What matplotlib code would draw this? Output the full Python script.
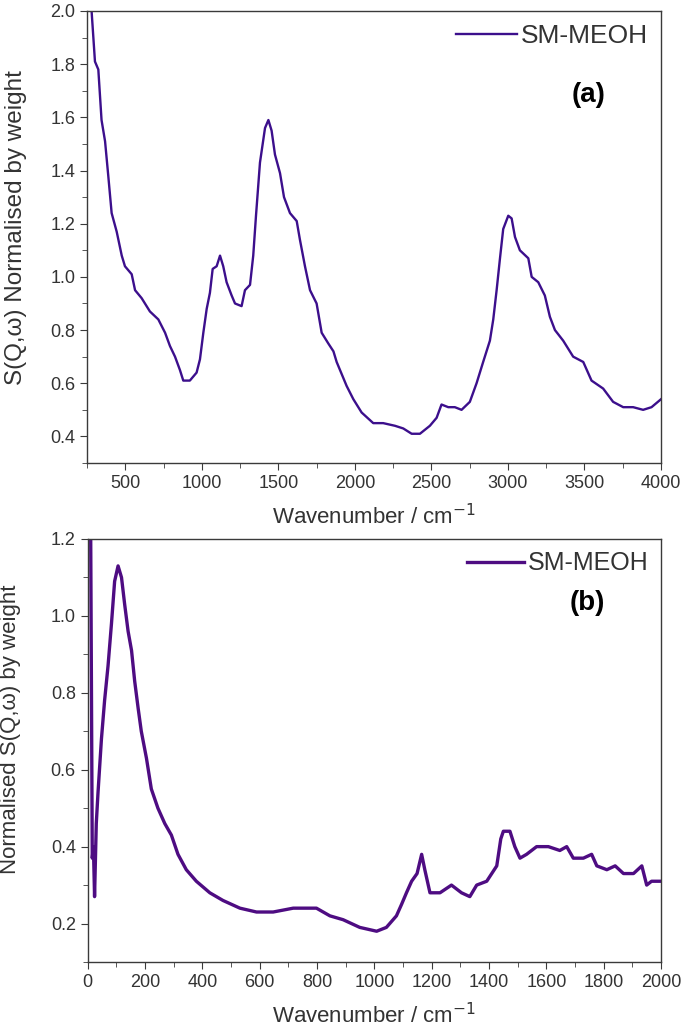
"""Plot S(Q,w) spectra of SM-MEOH

Two stacked panels: (a) the full wavenumber range and (b) the low energy
region. Values were read from the published figure.

"""
import matplotlib.pyplot as plt
from matplotlib.ticker import MultipleLocator

plt.rcParams['font.family'] = ['Liberation Sans', 'DejaVu Sans']

# panel (a): full range
WAVE_A = [280, 302, 324, 345, 368, 389, 411, 444, 477, 498, 542, 564, 607,
          661, 716, 760, 792, 825, 857, 879, 922, 966, 988, 1010, 1032, 1053,
          1071, 1097, 1119, 1140, 1162, 1195, 1217, 1260, 1282, 1315, 1336,
          1354, 1380, 1413, 1435, 1456, 1478, 1511, 1537, 1576, 1620, 1641,
          1674, 1707, 1750, 1783, 1826, 1860, 1881, 1946, 1990, 2044, 2120,
          2185, 2262, 2316, 2371, 2425, 2490, 2534, 2566, 2610, 2653, 2697,
          2751, 2795, 2838, 2882, 2904, 2926, 2948, 2969, 3002, 3024, 3046,
          3078, 3133, 3155, 3198, 3241, 3274, 3307, 3361, 3426, 3492, 3546,
          3622, 3687, 3753, 3818, 3883, 3938, 4000]
SQW_A = [2.00, 1.81, 1.78, 1.59, 1.51, 1.38, 1.24, 1.17, 1.08, 1.04, 1.01,
         0.95, 0.92, 0.87, 0.84, 0.79, 0.74, 0.70, 0.65, 0.61, 0.61, 0.64,
         0.69, 0.79, 0.88, 0.94, 1.03, 1.04, 1.08, 1.04, 0.98, 0.93, 0.90,
         0.89, 0.95, 0.97, 1.08, 1.23, 1.43, 1.56, 1.59, 1.55, 1.46, 1.39,
         1.30, 1.24, 1.21, 1.14, 1.04, 0.95, 0.90, 0.79, 0.75, 0.72, 0.68,
         0.59, 0.54, 0.49, 0.45, 0.45, 0.44, 0.43, 0.41, 0.41, 0.44, 0.47,
         0.52, 0.51, 0.51, 0.50, 0.53, 0.60, 0.68, 0.76, 0.84, 0.95, 1.07,
         1.18, 1.23, 1.22, 1.15, 1.10, 1.07, 1.00, 0.98, 0.93, 0.85, 0.80,
         0.76, 0.70, 0.68, 0.61, 0.58, 0.53, 0.51, 0.51, 0.50, 0.51, 0.54]

# panel (b): low wavenumber range
WAVE_B = [8, 16, 20, 24, 30, 36, 48, 59, 71, 83, 94, 106, 118, 129, 141,
          153, 164, 176, 187, 205, 222, 245, 269, 292, 315, 344, 379, 426,
          472, 531, 589, 647, 717, 798, 845, 891, 949, 1008, 1042, 1077, 1095,
          1112, 1130, 1149, 1165, 1176, 1194, 1229, 1269, 1304, 1333, 1357,
          1392, 1427, 1441, 1450, 1473, 1490, 1508, 1531, 1566, 1607, 1647,
          1671, 1694, 1729, 1758, 1776, 1811, 1840, 1869, 1904, 1933, 1950,
          1967, 1997]
SQW_B = [1.60, 0.37, 0.40, 0.27, 0.46, 0.54, 0.68, 0.78, 0.87, 0.98, 1.09,
         1.13, 1.10, 1.03, 0.96, 0.91, 0.83, 0.76, 0.70, 0.63, 0.55, 0.50,
         0.46, 0.43, 0.38, 0.34, 0.31, 0.28, 0.26, 0.24, 0.23, 0.23, 0.24,
         0.24, 0.22, 0.21, 0.19, 0.18, 0.19, 0.22, 0.25, 0.28, 0.31, 0.33,
         0.38, 0.34, 0.28, 0.28, 0.30, 0.28, 0.27, 0.30, 0.31, 0.35, 0.42,
         0.44, 0.44, 0.40, 0.37, 0.38, 0.40, 0.40, 0.39, 0.40, 0.37, 0.37,
         0.38, 0.35, 0.34, 0.35, 0.33, 0.33, 0.35, 0.30, 0.31, 0.31]

LEGEND = "SM-MEOH"


def style_axes(ax, xmajor, xminor, ymajor, yminor):
    """Origin-like frame with outward ticks on bottom and left only."""
    for side in ax.spines.values():
        side.set_color('#3a3a3a')
        side.set_linewidth(1.0)
    ax.xaxis.set_major_locator(MultipleLocator(xmajor))
    ax.xaxis.set_minor_locator(MultipleLocator(xminor))
    ax.yaxis.set_major_locator(MultipleLocator(ymajor))
    ax.yaxis.set_minor_locator(MultipleLocator(yminor))
    ax.tick_params(which='both', direction='out', top=False, right=False,
                   color='#3a3a3a', labelcolor='#333333', labelsize=13)
    ax.tick_params(which='major', length=5)
    ax.tick_params(which='minor', length=3.5)


def plot_panel(ax, wave, sqw, color, lw, ylabel, tag, ysize, tag_pos, legsize):
    ax.plot(wave, sqw, color=color, lw=lw, label=LEGEND)
    ax.set_xlabel("Wavenumber / cm$^{-1}$", fontsize=16, color='#333333',
                  labelpad=9)
    ax.set_ylabel(ylabel, fontsize=ysize, color='#333333')
    leg = ax.legend(loc='upper right', frameon=False, fontsize=legsize,
                    handlelength=2.3, handletextpad=0.15, borderaxespad=0.1)
    for txt in leg.get_texts():
        txt.set_color('#333333')
    ax.text(tag_pos[0], tag_pos[1], tag, transform=ax.transAxes, fontsize=20,
            fontweight='bold', ha='center', va='center')


def main():
    fig = plt.figure(figsize=(6.85, 10.28), dpi=100)
    ax_a = fig.add_axes([0.127, 0.5496, 0.838, 0.4397])
    ax_b = fig.add_axes([0.128, 0.0642, 0.837, 0.4115])

    plot_panel(ax_a, WAVE_A, SQW_A, '#3c0f8c', 1.7,
               "S(Q,\u03c9) Normalised by weight", "(a)", 17.5,
               (0.873, 0.814), 19)
    ax_a.set_xlim(250, 4000)
    ax_a.set_ylim(0.3, 2.0)
    ax_a.yaxis.set_label_coords(-0.105, 0.52)
    style_axes(ax_a, 500, 250, 0.2, 0.1)

    plot_panel(ax_b, WAVE_B, SQW_B, '#4e0c82', 2.4,
               "Normalised S(Q,\u03c9) by weight", "(b)", 16,
               (0.871, 0.849), 18)
    ax_b.set_xlim(0, 2000)
    ax_b.set_ylim(0.1, 1.2)
    ax_b.yaxis.set_label_coords(-0.117, 0.55)
    style_axes(ax_b, 200, 100, 0.2, 0.1)

    fig.savefig("out.png", dpi=100)
    plt.close(fig)


if __name__ == "__main__":
    main()
